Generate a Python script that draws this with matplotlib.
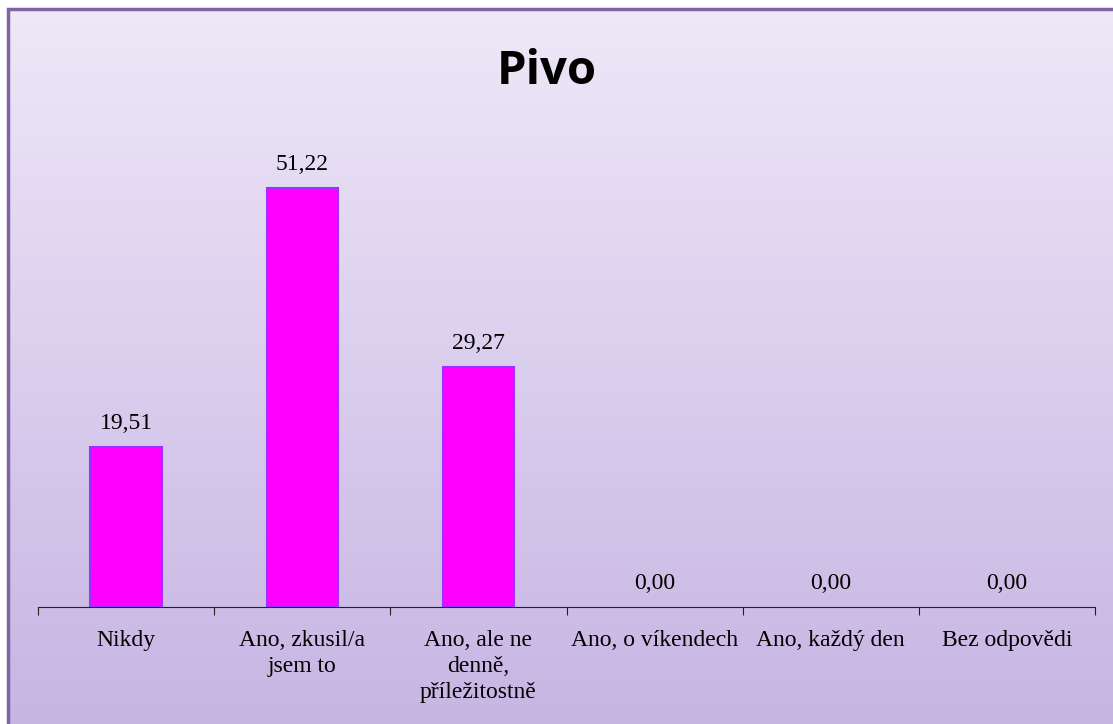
import numpy as np
import matplotlib
matplotlib.use('Agg')
import matplotlib.pyplot as plt
from matplotlib.colors import LinearSegmentedColormap
from matplotlib.patches import Rectangle

categories = ['Nikdy', 'Ano, zkusil/a\njsem to', 'Ano, ale ne\ndenně,\npříležitostně',
              'Ano, o víkendech', 'Ano, každý den', 'Bez odpovědi']
values = [19.51, 51.22, 29.27, 0.00, 0.00, 0.00]
title = 'Pivo'

W, H = 1113, 724
fig = plt.figure(figsize=(W / 100, H / 100), dpi=100)
fig.patch.set_facecolor('white')

# background panel with vertical gradient
bg = fig.add_axes([8 / W, 0, 1 - 8 / W, 1 - 9 / H])
cmap = LinearSegmentedColormap.from_list('bg', ['#eee8f8', '#c7b5e3'])
grad = np.linspace(0, 1, 256).reshape(-1, 1)
bg.imshow(grad, aspect='auto', cmap=cmap, extent=[0, 1, 0, 1], origin='upper')
bg.set_xlim(0, 1)
bg.set_ylim(0, 1)
bg.axis('off')
bg.add_patch(Rectangle((0, -0.02), 1.02, 1.02, transform=bg.transAxes, fill=False,
                       edgecolor='#8064a2', linewidth=2.5, clip_on=False))

ax = fig.add_axes([38 / W, 1 - 607 / H, (1095 - 38) / W, (607 - 116) / H])
ax.patch.set_alpha(0)
x = np.arange(len(categories))
lw = [1.5 if v > 0 else 0 for v in values]
ax.bar(x, values, width=0.405, color='#ff00ff', edgecolor='#9933ff', linewidth=lw)
ax.set_xlim(-0.5, len(categories) - 0.5)
ax.set_ylim(0, 60)

for xi, v in zip(x, values):
    ax.text(xi, v + 1.6, '{:.2f}'.format(v).replace('.', ','), ha='center', va='bottom',
            fontsize=17, family='Liberation Serif', color='black')

for s in ['top', 'right', 'left']:
    ax.spines[s].set_visible(False)
ax.spines['bottom'].set_color('#222222')
ax.set_yticks([])
ax.set_xticks(np.arange(-0.5, len(categories), 1.0), minor=False)
ax.set_xticklabels([])
ax.tick_params(axis='x', which='major', length=6, color='#222222', direction='out')
for xi, c in zip(x, categories):
    ax.text(xi, -0.047, c, transform=ax.get_xaxis_transform(), ha='center', va='top',
            fontsize=17, family='Liberation Serif', linespacing=1.3)

fig.text(547 / W, 1 - 72 / H, title, ha='center', va='center', fontsize=34,
         fontweight='bold', family='Open Sans')

fig.savefig('out.png', dpi=100)
